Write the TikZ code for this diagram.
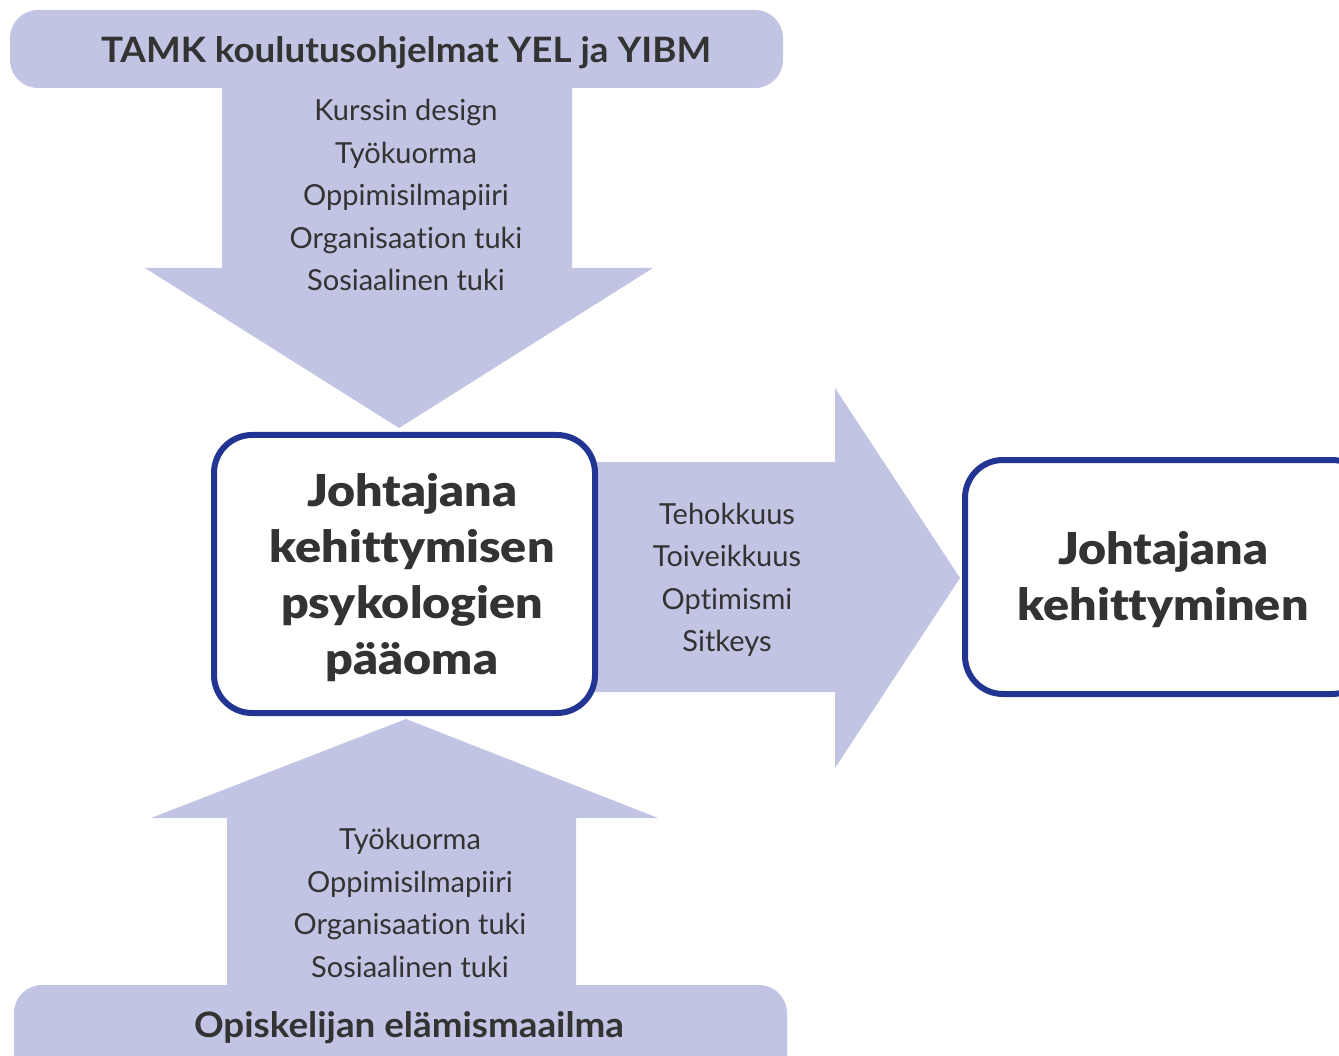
\documentclass[tikz,border=0pt]{standalone}
\usepackage{fontspec}
\setmainfont{Lato}[Ligatures={NoCommon}]
\newfontfamily\heavyfont{Lato Black}[Ligatures={NoCommon}]
\definecolor{lav}{HTML}{C1C4E2}
\definecolor{bordblue}{HTML}{223592}
\definecolor{txt}{HTML}{333333}
\begin{document}
\begin{tikzpicture}[x=1pt,y=-1pt,
  lavfill/.style={fill=lav},
  mainbox/.style={draw=bordblue, line width=6pt, fill=white, rounded corners=38pt},
  listtxt/.style={text=txt, align=center, inner sep=0pt, font=\fontsize{29}{42.5}\selectfont},
  boldtxt/.style={text=txt, align=center, inner sep=0pt, xscale=1.1, font=\heavyfont\fontsize{44}{56}\selectfont},
  bannertxt/.style={text=txt, inner sep=0pt, xscale=1.05, font=\bfseries\fontsize{35}{36}\selectfont}]
\useasboundingbox (0,0) rectangle (1339,1056);
\begin{scope}
\clip (0,0) rectangle (1339,1056);
% top banner and down arrow
\fill[lavfill, rounded corners=28pt] (10,10) rectangle (783,88);
\fill[lavfill] (222,80) -- (572,80) -- (572,268) -- (653,268) -- (399,428) -- (145,268) -- (222,268) -- cycle;
% bottom banner and up arrow
\fill[lavfill, rounded corners=28pt] (14,985) rectangle (787,1110);
\fill[lavfill] (227,995) -- (227,818) -- (151,818) -- (406,719) -- (658,818) -- (576,818) -- (576,995) -- cycle;
% right arrow
\fill[lavfill] (590,462) -- (835,462) -- (835,388) -- (960,578) -- (835,768) -- (835,692) -- (590,692) -- cycle;
% boxes
\draw[mainbox] (214,435) rectangle (595,713);
\draw[mainbox] (965,460) rectangle (1370,694);
\end{scope}
% texts
\node[bannertxt] (top) at (406,53) {TAMK koulutusohjelmat YEL ja YIBM};
\node[listtxt] (toplist) at (406,195) {Kurssin design\\Työkuorma\\Oppimisilmapiiri\\Organisaation tuki\\Sosiaalinen tuki};
\node[boldtxt] (capital) at (412,578) {Johtajana\\kehittymisen\\psykologien\\pääoma};
\node[listtxt] (rightlist) at (727,580) {Tehokkuus\\Toiveikkuus\\Optimismi\\Sitkeys};
\node[boldtxt] (growth) at (1163,580) {Johtajana\\kehittyminen};
\node[listtxt] (botlist) at (410,903) {Työkuorma\\Oppimisilmapiiri\\Organisaation tuki\\Sosiaalinen tuki};
\node[bannertxt] (bottom) at (409,1028) {Opiskelijan elämismaailma};
\end{tikzpicture}
\end{document}
